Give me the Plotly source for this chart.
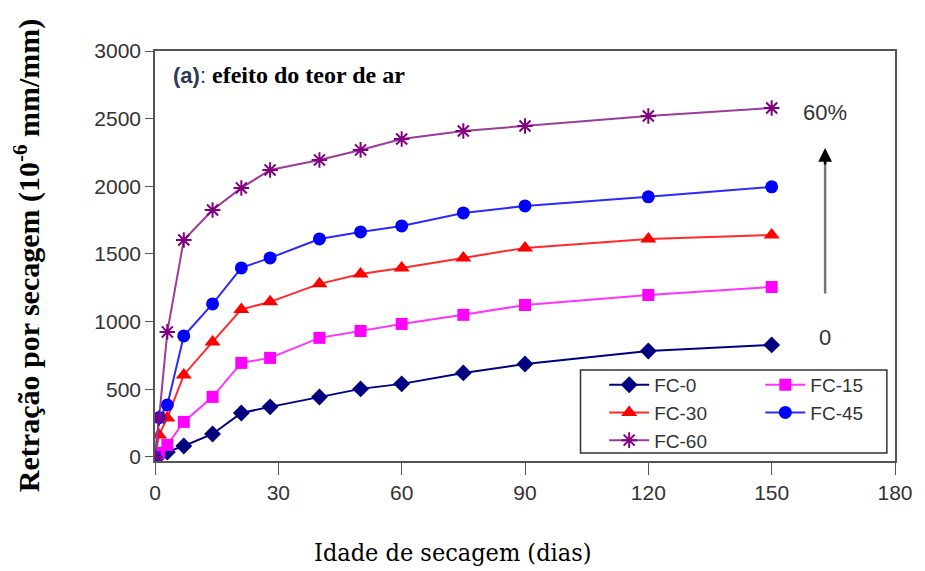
import plotly.graph_objects as go

days = [0, 1, 3, 7, 14, 21, 28, 40, 50, 60, 75, 90, 120, 150]
fc0 = [0, 10, 37, 81, 170, 325, 370, 443, 503, 540, 621, 687, 783, 828]
fc15 = [0, 30, 89, 259, 444, 695, 732, 880, 931, 983, 1050, 1123, 1197, 1256]
fc30 = [0, 163, 288, 606, 850, 1090, 1146, 1279, 1352, 1397, 1471, 1545, 1611, 1641]
fc45 = [0, 290, 384, 894, 1131, 1397, 1471, 1611, 1663, 1707, 1803, 1855, 1922, 1996]
fc60 = [0, 288, 924, 1603, 1825, 1988, 2121, 2195, 2269, 2350, 2409, 2446, 2520, 2579]

x_ticks = [0, 30, 60, 90, 120, 150, 180]
y_ticks = [0, 500, 1000, 1500, 2000, 2500, 3000]

# name, values, line colour, marker colour, symbol, size, legend column
series = [
    ("FC-0", fc0, "#000080", "#000080", "diamond", 13, "legend"),
    ("FC-15", fc15, "#FF33FF", "#FF00FF", "square", 12, "legend2"),
    ("FC-30", fc30, "#FF2A2A", "#FF0000", "triangle-up", 14, "legend"),
    ("FC-45", fc45, "#2A2AFF", "#0000FF", "circle", 13, "legend2"),
    ("FC-60", fc60, "#9B3C9B", "#800080", "asterisk-open", 13, "legend"),
]

fig = go.Figure()
for name, vals, lc, mc, sym, ms, lg in series:
    fig.add_trace(go.Scatter(
        x=days, y=vals, name=name, mode="lines+markers", legend=lg,
        line=dict(color=lc, width=2),
        marker=dict(symbol=sym, size=ms, color=mc,
                    line=dict(color=mc, width=2 if "open" in sym else 0)),
    ))

sans = "Liberation Sans, Arial, sans-serif"
serif = "Liberation Serif, Times New Roman, serif"
axis_font = dict(family=sans, size=21, color="#333333")
leg_font = dict(family=sans, size=19, color="#333333")

fig.update_layout(
    width=925, height=571,
    margin=dict(l=155, r=28, t=51, b=110),
    paper_bgcolor="white", plot_bgcolor="white",
    showlegend=True,
    legend=dict(
        x=0.607, y=0.232, xanchor="left", yanchor="top",
        bgcolor="rgba(0,0,0,0)", borderwidth=0, font=leg_font,
        tracegroupgap=0, itemwidth=40,
    ),
    legend2=dict(
        x=0.818, y=0.232, xanchor="left", yanchor="top",
        bgcolor="rgba(0,0,0,0)", borderwidth=0, font=leg_font,
        tracegroupgap=0, itemwidth=40,
    ),
    xaxis=dict(
        range=[0, 180], tickvals=x_ticks, ticks="outside", ticklen=12,
        tickcolor="#555555", showline=True, linecolor="#555555", linewidth=1.5,
        mirror=True, showgrid=False, zeroline=False, tickfont=axis_font,
    ),
    yaxis=dict(
        range=[-30, 3000], tickvals=y_ticks, ticks="outside", ticklen=8,
        tickcolor="#555555", showline=True, linecolor="#555555", linewidth=1.5,
        mirror=True, showgrid=False, zeroline=False, tickfont=axis_font,
    ),
)

# legend frame
fig.add_shape(type="rect", xref="paper", yref="paper",
              x0=0.575, x1=0.989, y0=0.0195, y1=0.222,
              line=dict(color="#333333", width=1.5), fillcolor="white", layer="above")

# axis titles
fig.add_annotation(
    xref="paper", yref="paper", x=-0.173, y=0.502, xanchor="center", yanchor="middle",
    textangle=-90, showarrow=False,
    text="<b>Retração por secagem (10<sup>-6</sup> mm/mm)</b>",
    font=dict(family=serif, size=30, color="black"),
)
fig.add_annotation(
    xref="paper", yref="paper", x=0.402, y=-0.222, xanchor="center", yanchor="middle",
    showarrow=False, text="Idade de secagem (dias)",
    font=dict(family="DejaVu Serif Condensed, Liberation Serif, serif", size=25, color="black"),
)

# panel label
fig.add_annotation(
    xref="paper", yref="paper", x=0.022, y=0.941, xanchor="left", yanchor="middle",
    text="<span style='font-family:Liberation Sans, Arial; color:#2F3B55; font-size:22px'><b>(a)</b>:</span> "
         "<b>efeito do teor de ar</b>",
    showarrow=False,
    font=dict(family=serif, size=24, color="black"),
)
fig.add_annotation(x=163, y=2545, text="60%", showarrow=False,
                   font=dict(family=sans, size=22, color="#333333"))
fig.add_annotation(x=163, y=880, text="0", showarrow=False,
                   font=dict(family=sans, size=22, color="#333333"))
# arrow shaft (gray) and head (black)
fig.add_annotation(x=163, y=2200, ax=163, ay=1197, xref="x", yref="y", axref="x", ayref="y",
                   text="", showarrow=True, arrowhead=0, arrowwidth=2.5, arrowcolor="#777777")
fig.add_annotation(x=163, y=2284, ax=163, ay=2150, xref="x", yref="y", axref="x", ayref="y",
                   text="", showarrow=True, arrowhead=2, arrowsize=1.1, arrowwidth=2.5,
                   arrowcolor="#000000")

fig.write_html("out.html", config={"displayModeBar": False},
               post_script="document.body.style.margin='0';")
